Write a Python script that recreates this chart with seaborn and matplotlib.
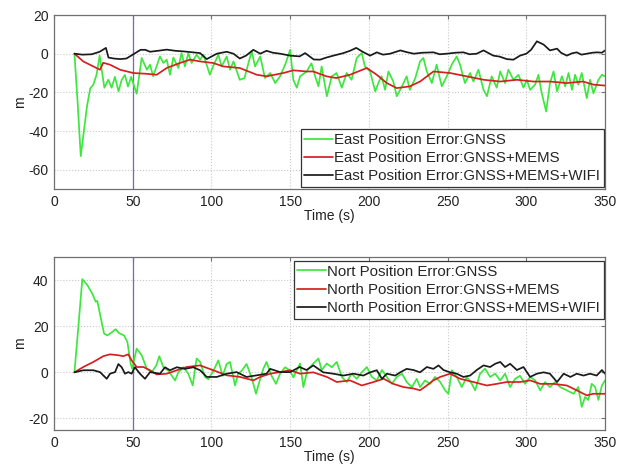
import numpy as np
import pandas as pd
import matplotlib
matplotlib.use("Agg")
import matplotlib.pyplot as plt
import seaborn as sns

# ---------------- data ----------------
# East, GNSS
east_gnss_t = [13, 15, 17, 19, 21, 23, 25, 27, 29, 32, 34.5, 36.6, 38.7, 41, 43, 45, 47, 49, 52.5,
               55.7, 59, 61, 63, 67.3, 69.5, 71.6, 73.7, 75.8, 79, 81, 83.2, 85.3, 87.4, 90.6, 92.8,
               94.9, 99, 101, 104.4, 106.5, 109.7, 111.8, 114, 118, 121, 123.5, 125.6, 127.7, 131,
               134, 137.3, 140.5, 143.6, 146.8, 150, 152, 154.2, 156.3, 160.5, 163.5, 166, 168, 170,
               173.3, 176.4, 179.5, 182.8, 185.9, 189, 192.3, 195.5, 197.5, 200.8, 204, 206, 208,
               210.3, 212.4, 215.5, 217.7, 221, 224, 226, 229.5, 232.5, 234.6, 236.8, 240, 243,
               246.3, 249.5, 252.6, 255.8, 257.9, 261, 264.3, 266.4, 269.6, 272.8, 275, 278, 281.2,
               283.4, 286.5, 288.6, 291.8, 295, 298.2, 300.3, 302.4, 305.6, 307.7, 309.8, 312.6, 315,
               317.3, 319.5, 322.6, 324.7, 326.8, 329, 331, 333, 335.2, 338.4, 340.5, 342.6, 345.8,
               348, 350]
east_gnss_v = [0, -25, -53, -40, -27, -18, -16, -11, -1, -17.6, -13.5, -17.6, -12, -19.5, -13.5, -11,
               -17, -12, -20.7, -2.2, -8.3, -5.7, -11.7, -1.4, -4.8, -3.1, -10.9, -2, -7.4, 0.3, -6.6,
               0.3, -4.8, -0.5, -3.1, -0.5, -10.9, -6.6, -0.5, -6.6, -1.4, -8.3, -4, -13.5, -12.6,
               -4.8, 1.2, -6.6, -1.4, -12.6, -10, -15.2, -11.7, -5.7, 2, -13.5, -17.6, -11.7, -9.2,
               -5, -12, -16.9, -6.6, -22, -11.7, -10, -17.6, -10, -13.5, -2.2, 0.3, -6.6, -9.2,
               -19.5, -15.2, -11.7, -18.7, -9.2, -14.4, -22, -16.9, -11.7, -18.7, -12.6, -4, -2.2,
               -9.2, -15.2, -5.7, -16.9, -11.7, -5.7, -1.4, -5.7, -15.2, -10, -14.4, -8.3, -18.7,
               -22, -11.7, -17.6, -9.2, -15.2, -8.3, -13.5, -10.9, -17.6, -13.5, -18.7, -16, -10.9,
               -20.5, -29.9, -15.2, -9.2, -19.5, -11.7, -16.9, -10, -18.7, -10.9, -16, -10, -23,
               -13.5, -20.5, -13.5, -10.9, -11.7]

# East, GNSS+MEMS
east_mems_t = [13, 18.6, 25, 29.2, 31.3, 35.6, 42, 50.4, 58.9, 65.2, 71.6, 80, 86.4, 92.8, 101,
               107.6, 118, 128.8, 135, 145.7, 152, 160.5, 164.7, 173, 179.4, 188, 198.7, 205, 211.4,
               217.7, 226, 232.5, 241, 251.6, 262, 273, 283.4, 294, 304.5, 315, 325.7, 336, 342.6,
               350]
east_mems_v = [0, -4, -6.6, -8.3, -4.7, -5.7, -8.3, -10, -10.4, -10.9, -7.4, -4.8, -3.1, -4, -4.8,
               -6.6, -7.4, -10.9, -11.7, -10, -8.6, -9.2, -9.2, -11.7, -12.6, -10.9, -7.4, -10.9,
               -15.2, -17.8, -16.9, -14.4, -9.2, -10, -11.7, -13.5, -14.4, -13.5, -14.4, -14.4,
               -15.2, -14.4, -16, -16.5]

# East, GNSS+MEMS+WIFI
east_wifi_t = [13, 18, 24, 29, 33, 34.6, 38, 42, 46, 51, 55, 58, 61, 66, 71.6, 77, 82, 87, 92.8, 97,
               103.4, 109.7, 114, 118, 122, 126.6, 131, 135, 139, 143.6, 150, 156, 159.5, 165, 169,
               173, 177.5, 183.8, 188, 192, 196, 200.8, 205, 209, 213.5, 220, 224, 228.5, 234, 241,
               245, 249.5, 255, 260, 264, 268.5, 272.8, 279, 283, 287.6, 291.8, 296, 300, 303,
               306.7, 311, 315, 319.5, 322, 325.7, 329, 332, 335, 338.5, 342, 345, 348, 350]
east_wifi_v = [0, -0.5, -0.3, 1, 3, -2, -2.5, -2.8, -2.5, 0, 2, 2, 1, 1.5, 2.1, 1.5, 1.2, 0.8, 0.3,
               -2.8, 0, 1, 0, -2.5, -1, 2, 0, 1.5, 0.5, 0, -1, -1.4, 0.3, -3, -3.1, -2, -1, 0.3, 1.5,
               3, 1, -1, 0.7, -0.5, 0, 1.7, 0.8, 0, 0.5, 0.7, -0.3, 0, 0.5, 0.7, -0.3, 0, 1.7, -1,
               -1.5, -2.8, -3.1, -1, 0, 2, 6.4, 4.7, 1.7, 2.6, 0.5, -1, 0.2, 0.7, -0.5, 0, 0.5, 0.7,
               0.5, 1.7]

# North, GNSS
north_gnss_t = [13, 15.5, 18, 21.2, 24.3, 26.5, 27.5, 29.6, 31.8, 33.9, 36, 39.2, 41.3, 44.5, 46.6,
                48.7, 49.7, 52.5, 55.7, 58.9, 62, 65, 66.9, 69.5, 72.6, 76.9, 79, 82.2, 85.3, 88.1,
                90.6, 92.8, 95.9, 98, 101.2, 104.4, 107.1, 109.7, 111.8, 115, 117, 119.1, 122.3,
                125.5, 128.3, 130.4, 133, 135, 138.2, 141, 143.6, 146.8, 150, 152, 156.3, 158.4,
                161, 164.7, 168, 170, 173.3, 176.4, 179.6, 182.8, 185.9, 189, 192.3, 195.5, 198.7,
                201.9, 205, 208.3, 211.4, 214.6, 217.7, 221, 224, 227.3, 230.4, 232.5, 235.7,
                238.9, 242, 245.3, 248.4, 250.5, 252.7, 255.8, 259, 262.2, 265.4, 267.5, 270.6,
                273.8, 277, 280.2, 283.4, 286.5, 289.7, 292.9, 296, 299.2, 302.4, 305.6, 308.8,
                311.9, 315, 318.3, 321.5, 325.7, 330, 333, 335.2, 337.3, 339.4, 341.5, 343.7,
                345.8, 348, 350]
north_gnss_v = [0, 20, 40.4, 37.8, 34.2, 30.6, 31, 24, 16.8, 16, 17, 18.7, 17, 16, 13.2, 3.8, 1.5,
                10.3, 7.4, 1.6, 0, 3, 7, 2.2, 0.7, -3.5, 0, 2.2, -0.6, -5.7, 6, 4.5, -2, -3, 0.6,
                5.2, -1.5, 3.6, 4.5, -5.7, -0.6, 0.6, 3.6, -2.2, -9.3, -4.2, 1.6, 4.5, -1.5, -5,
                -0.6, 2.2, 0.7, -2.2, 3.8, -6.4, 1, 3.8, 6, 1, 3.8, 2.2, 4.5, -2, -4.2, -0.6, -2.8,
                0, 2.3, -2, -3.5, 1, -2, -5, -2, -0.6, -4.2, -6.4, -2.8, -6.4, -3.5, -5, -2, -4.2,
                -7.8, -9.3, 0.9, -2, -6.4, -2, -5, -7.8, -0.6, 1.6, -2, -0.6, -3.5, -0.6, -6.4,
                -2.8, -1.5, -5, -2, -3.5, -7.8, -4.2, -6.4, -4.2, -6.4, -7.8, -9.3, -6.4, -15,
                -10.7, -12, -5, -6.4, -12, -5.7, -3.5]

# North, GNSS+MEMS
north_mems_t = [13, 18.6, 25, 31.3, 35.6, 40.9, 44, 47.2, 49.3, 52.5, 56.8, 61, 65.2, 71.6, 78,
                84.3, 92.8, 101.2, 109.7, 118.2, 126.6, 131, 137.3, 143.6, 150, 156.3, 164.7,
                173.3, 179.6, 188, 195.5, 203, 209.4, 215.5, 222, 228.3, 232.5, 236.8, 241, 245.3,
                251.6, 258, 266.4, 274.9, 281.2, 287.6, 296, 302.4, 308.8, 317.3, 325.7, 332,
                338.4, 342.6, 350]
north_mems_v = [0, 2.3, 4.5, 7, 7.8, 7.4, 7, 7.8, 5.2, 2.3, 2.3, 0.9, -0.9, -0.6, 0.9, 2.3, 3,
                0.9, -1.3, -2, -3.5, -2, -0.6, 0.1, 0.9, -0.6, 0, -2, -4.2, -3.5, -5.7, -4.2,
                -2.8, -5, -6.4, -7, -7.8, -5.7, -3.5, -2, -0.6, -2.8, -4.2, -5.7, -5, -4.2, -4.2,
                -3.5, -5, -5, -5.7, -7.8, -10, -9.3, -9.3]

# North, GNSS+MEMS+WIFI
north_wifi_t = [13, 18.6, 25, 29.2, 33.5, 35.6, 38.8, 40.9, 43, 45.1, 47.2, 49.3, 51.4, 54.6, 57.8,
                61, 67.3, 70.5, 73.7, 78, 83.2, 88.5, 92.8, 97, 103.4, 109.7, 116, 122.3, 128.8,
                135, 137.3, 143.6, 150, 156, 160.4, 164.7, 171, 177.4, 183.8, 190.2, 196.5, 200.8,
                205, 208.3, 211.4, 216.7, 219.9, 224, 228.3, 232.5, 236.8, 241, 244.2, 247.4,
                251.6, 255.8, 260, 264.3, 268.5, 272.8, 277, 280.2, 283.4, 286.5, 289.7, 294,
                298.2, 302.4, 306.7, 311, 315, 319.5, 323.7, 328, 332, 336.3, 340.5, 344.7, 348,
                350]
north_wifi_v = [0, 0.9, 0.9, 0.1, -2.8, -0.6, 0.1, 3.6, 2.2, -0.6, 0.1, -0.6, 2.2, -0.6, -2.8, 0.1,
                -0.6, 2.2, 0.9, 2.2, 1.5, 2.2, 0.9, -2, -2, -0.6, 0.1, -2, -1.3, -0.6, 1.5, 0.1,
                0.1, 2.3, 1, 3, 0, -0.6, -1.4, -0.6, -1.4, 0, 0.9, -2.8, -0.6, -1.4, 0, 1.5, 1, 0,
                2.3, 1.5, 3, 1, 0, -0.6, -2, -1.4, 1, 3, 2.3, 3.7, 4.5, 2.3, 3.7, 1, 2.3, -2, -0.6,
                0, -0.6, -4.2, -0.6, -2, -0.6, -1.4, -0.6, -1.4, 1, -0.6]

east_labels = ["East Position Error:GNSS", "East Position Error:GNSS+MEMS",
               "East Position Error:GNSS+MEMS+WIFI"]
north_labels = ["Nort Position Error:GNSS", "North Position Error:GNSS+MEMS",
                "North Position Error:GNSS+MEMS+WIFI"]
marker_time = 50

# ---------------- styling ----------------
sns.set_style("whitegrid")
plt.rcParams["font.family"] = ["Liberation Sans", "DejaVu Sans"]
plt.rcParams["font.size"] = 10
plt.rcParams["axes.unicode_minus"] = False

colors = ["#3ee63e", "#d42020", "#1a1a1a"]

fig = plt.figure(figsize=(6.27, 4.65), dpi=100)
ax1 = fig.add_axes([0.0861, 0.5935, 0.8789, 0.3742])
ax2 = fig.add_axes([0.0861, 0.0753, 0.8789, 0.3720])


def draw(ax, series, labels):
    for (t, v), lab, c in zip(series, labels, colors):
        df = pd.DataFrame({"t": t, "v": v})
        sns.lineplot(data=df, x="t", y="v", ax=ax, color=c, lw=1.25, label=lab,
                     estimator=None, sort=False)
    ax.axvline(marker_time, color="#6a6ac8", lw=0.9, zorder=1)
    ax.set_xlim(0, 350)
    ax.set_xticks([0, 50, 100, 150, 200, 250, 300, 350])
    ax.grid(True, color="#c8c8c8", linestyle=":", linewidth=0.8)
    for s in ax.spines.values():
        s.set_color("#707070")
        s.set_linewidth(0.9)
    ax.tick_params(direction="in", length=3, color="#707070", labelsize=10, pad=4,
                   top=True, right=True, labelcolor="#222222")
    ax.set_xlabel("Time (s)", fontsize=10, labelpad=0, color="#222222")
    ax.set_ylabel("m", fontsize=10, labelpad=1, color="#222222")


draw(ax1, [(east_gnss_t, east_gnss_v), (east_mems_t, east_mems_v), (east_wifi_t, east_wifi_v)],
     east_labels)
ax1.set_ylim(-70, 20)
ax1.set_yticks([-60, -40, -20, 0, 20])
leg1 = ax1.legend(loc="lower right", bbox_to_anchor=(0.998, 0.012), borderaxespad=0,
                  fancybox=False, edgecolor="#333333", framealpha=1, handlelength=1.9,
                  handletextpad=0.1, labelspacing=0.28, borderpad=0.25, fontsize=10.8)
leg1.get_frame().set_linewidth(0.9)

draw(ax2, [(north_gnss_t, north_gnss_v), (north_mems_t, north_mems_v), (north_wifi_t, north_wifi_v)],
     north_labels)
ax2.set_ylim(-25, 50)
ax2.set_yticks([-20, 0, 20, 40])
leg2 = ax2.legend(loc="upper right", bbox_to_anchor=(0.998, 0.977), borderaxespad=0,
                  fancybox=False, edgecolor="#333333", framealpha=1, handlelength=1.9,
                  handletextpad=0.1, labelspacing=0.28, borderpad=0.25, fontsize=10.8)
leg2.get_frame().set_linewidth(0.9)

fig.savefig("out.png", dpi=100)
